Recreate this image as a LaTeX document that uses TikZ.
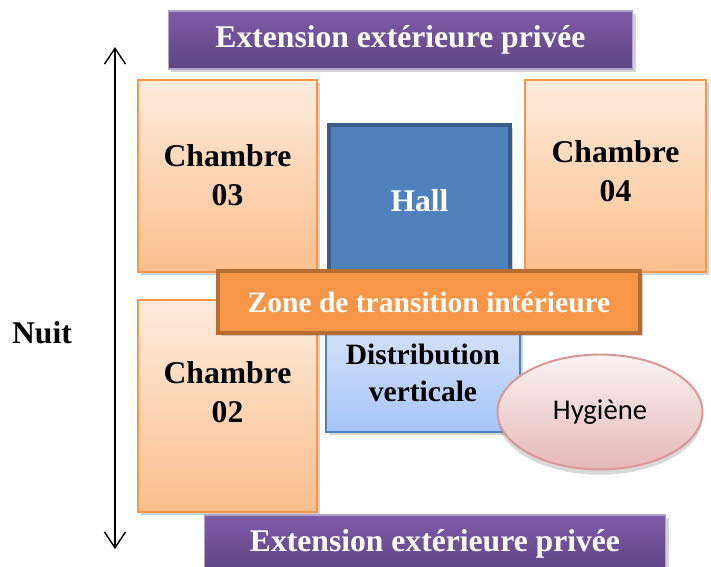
\documentclass[tikz,border=0pt]{standalone}
\usepackage{fontspec}
\setmainfont{Liberation Serif}
\newfontfamily\calibrifont{Carlito}
\usetikzlibrary{shapes.geometric, arrows.meta, shadows}
\usepackage{xcolor}

\definecolor{purpletop}{HTML}{7E5CA8}
\definecolor{purplebot}{HTML}{5E4482}
\definecolor{purpleline}{HTML}{B3A2C7}
\definecolor{chtop}{HTML}{FDEBDC}
\definecolor{chbot}{HTML}{FBBF8D}
\definecolor{chline}{HTML}{F79646}
\definecolor{hallfill}{HTML}{4F81BD}
\definecolor{hallline}{HTML}{385D8A}
\definecolor{zonefill}{HTML}{F79646}
\definecolor{zoneline}{HTML}{B66D31}
\definecolor{distop}{HTML}{DCE7F9}
\definecolor{disbot}{HTML}{A6C5F7}
\definecolor{disline}{HTML}{4F81BD}
\definecolor{hygtop}{HTML}{FBF2F2}
\definecolor{hygbot}{HTML}{E5B8B7}
\definecolor{hygline}{HTML}{D99694}

\tikzset{
  bigtext/.style = {font=\bfseries\fontsize{18}{22.5}\selectfont},
  midtext/.style = {font=\bfseries\fontsize{16.8}{21.5}\selectfont},
  shade/.style   = {drop shadow={opacity=0.35, shadow xshift=1.5pt, shadow yshift=-1.5pt}},
  extbar/.style  = {draw=purpleline, line width=0.6pt, top color=purpletop,
                    bottom color=purplebot, minimum height=1.16cm, inner sep=0pt,
                    text=white, bigtext, shade},
  chambre/.style = {draw=chline, line width=1.1pt, top color=chtop, bottom color=chbot,
                    minimum width=3.58cm, inner sep=0pt, shade},
  roomtext/.style = {bigtext, align=center, text=black},
  hall/.style    = {draw=hallline, line width=1.8pt, fill=hallfill, minimum width=3.62cm,
                    minimum height=3.3cm, inner sep=0pt, shade},
  zone/.style    = {draw=zoneline, line width=2.3pt, fill=zonefill, minimum width=8.44cm,
                    minimum height=1.24cm, inner sep=0pt, text=white, midtext, shade},
  distrib/.style = {draw=disline, line width=0.9pt, top color=distop, bottom color=disbot,
                    minimum width=3.88cm, minimum height=2.44cm, inner sep=0pt, shade},
  hygiene/.style = {ellipse, draw=hygline, line width=1.1pt, top color=hygtop,
                    bottom color=hygbot, minimum width=4.1cm, minimum height=2.3cm,
                    inner sep=0pt, font=\calibrifont\fontsize{16.3}{19}\selectfont,
                    drop shadow={opacity=0.3, shadow xshift=0pt, shadow yshift=-3pt}}
}

\begin{document}
\begin{tikzpicture}[x=0.02cm, y=-0.02cm]

\clip (0,0) rectangle (711,566);
\useasboundingbox (0,0) rectangle (711,566);

% Extension top
\node[extbar, minimum width=9.3cm] (exttop) at (400.5,40) {Extension extérieure privée};

% Chambres du haut
\node[chambre, minimum height=3.84cm] (ch03) at (227.5,176) {};
\node[roomtext] (ch03txt) at (227.5,175) {Chambre\\03};

\node[chambre, minimum width=3.62cm, minimum height=3.84cm] (ch04) at (615.5,176) {};
\node[roomtext] (ch04txt) at (615.5,171) {Chambre\\04};

% Hall
\node[hall] (hall) at (419.5,207.5) {};
\node[bigtext, text=white] (halltxt) at (419.5,201) {Hall};

% Chambre 02
\node[chambre, minimum height=4.24cm] (ch02) at (227.5,406) {};
\node[roomtext] (ch02txt) at (227.5,392) {Chambre\\02};

% Distribution verticale
\node[distrib] (dist) at (423,371) {};
\node[midtext, align=center] (disttxt) at (423,373) {Distribution\\verticale};

% Zone de transition
\node[zone] (zone) at (429,302) {Zone de transition intérieure};

% Hygiene
\node[hygiene] (hyg) at (600,412) {Hygiène};

% Extension bottom
\node[extbar, minimum width=9.24cm] (extbot) at (435,544) {Extension extérieure privée};

% Axe nuit
\coordinate (nuittop) at (115,47);
\coordinate (nuitbot) at (115,549);
\draw[line width=0.8pt, {Straight Barb[length=9pt,width=12pt]}-{Straight Barb[length=9pt,width=12pt]}] (nuittop) -- (nuitbot);
\node[bigtext] (nuit) at (42,333) {Nuit};

\end{tikzpicture}
\end{document}
